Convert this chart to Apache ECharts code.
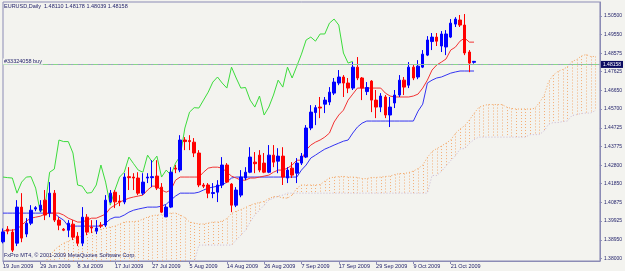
<!DOCTYPE html>
<html>
<head>
<meta charset="utf-8">
<title>EURUSD Daily</title>
<script src="https://cdn.jsdelivr.net/npm/echarts@6/dist/echarts.min.js"></script>
<style>
  html, body { margin: 0; padding: 0; background: #f3f3ef; }
  #chart { width: 625px; height: 271px; }
</style>
</head>
<body>
<div id="chart"></div>
<script>
// daily bars (Sunday bars are still in the feed until mid August)
var dates = [
  '19 Jun 2009', '21 Jun 2009', '22 Jun 2009', '23 Jun 2009', '24 Jun 2009', '25 Jun 2009', '26 Jun 2009', '28 Jun 2009',
  '29 Jun 2009', '30 Jun 2009', '1 Jul 2009', '2 Jul 2009', '3 Jul 2009', '5 Jul 2009', '6 Jul 2009', '7 Jul 2009',
  '8 Jul 2009', '9 Jul 2009', '10 Jul 2009', '12 Jul 2009', '13 Jul 2009', '14 Jul 2009', '15 Jul 2009', '16 Jul 2009',
  '17 Jul 2009', '19 Jul 2009', '20 Jul 2009', '21 Jul 2009', '22 Jul 2009', '23 Jul 2009', '24 Jul 2009', '26 Jul 2009',
  '27 Jul 2009', '28 Jul 2009', '29 Jul 2009', '30 Jul 2009', '31 Jul 2009', '2 Aug 2009', '3 Aug 2009', '4 Aug 2009',
  '5 Aug 2009', '6 Aug 2009', '7 Aug 2009', '9 Aug 2009', '10 Aug 2009', '11 Aug 2009', '12 Aug 2009', '13 Aug 2009',
  '14 Aug 2009', '17 Aug 2009', '18 Aug 2009', '19 Aug 2009', '20 Aug 2009', '21 Aug 2009', '24 Aug 2009', '25 Aug 2009',
  '26 Aug 2009', '27 Aug 2009', '28 Aug 2009', '31 Aug 2009', '1 Sep 2009', '2 Sep 2009', '3 Sep 2009', '4 Sep 2009',
  '7 Sep 2009', '8 Sep 2009', '9 Sep 2009', '10 Sep 2009', '11 Sep 2009', '14 Sep 2009', '15 Sep 2009', '16 Sep 2009',
  '17 Sep 2009', '18 Sep 2009', '21 Sep 2009', '22 Sep 2009', '23 Sep 2009', '24 Sep 2009', '25 Sep 2009', '28 Sep 2009',
  '29 Sep 2009', '30 Sep 2009', '1 Oct 2009', '2 Oct 2009', '5 Oct 2009', '6 Oct 2009', '7 Oct 2009', '8 Oct 2009',
  '9 Oct 2009', '12 Oct 2009', '13 Oct 2009', '14 Oct 2009', '15 Oct 2009', '16 Oct 2009', '19 Oct 2009', '20 Oct 2009',
  '21 Oct 2009', '22 Oct 2009', '23 Oct 2009', '26 Oct 2009', '27 Oct 2009', '28 Oct 2009'
]
// empty slots to the right where the cloud is projected forward
var futureBars = 27

var opens = [
  1.3885, 1.3950, 1.3935, 1.3878, 1.4064, 1.3925, 1.3981, 1.4054, 1.4048, 1.4100,
  1.4033, 1.4136, 1.3997, 1.3950, 1.3945, 1.3976, 1.3914, 1.3878, 1.4012, 1.3961,
  1.3940, 1.3971, 1.3971, 1.4091, 1.4141, 1.4095, 1.4090, 1.4221, 1.4219, 1.4214,
  1.4136, 1.4214, 1.4216, 1.4224, 1.4167, 1.4014, 1.4064, 1.4265, 1.4255, 1.4410,
  1.4407, 1.4399, 1.4343, 1.4178, 1.4178, 1.4134, 1.4141, 1.4178, 1.4281, 1.4183,
  1.4074, 1.4126, 1.4214, 1.4244, 1.4296, 1.4332, 1.4291, 1.4244, 1.4332, 1.4301,
  1.4327, 1.4214, 1.4265, 1.4239, 1.4291, 1.4322, 1.4472, 1.4552, 1.4580, 1.4595,
  1.4606, 1.4652, 1.4704, 1.4735, 1.4704, 1.4678, 1.4786, 1.4730, 1.4660, 1.4714,
  1.4616, 1.4580, 1.4632, 1.4539, 1.4601, 1.4642, 1.4719, 1.4693, 1.4786, 1.4735,
  1.4786, 1.4848, 1.4918, 1.4941, 1.4895, 1.4890, 1.4941, 1.5008, 1.5029, 1.5003,
  1.4864, 1.48110
]
var highs = [
  1.3954, 1.3966, 1.3950, 1.4100, 1.4136, 1.4007, 1.4074, 1.4069, 1.4100, 1.4152,
  1.4193, 1.4152, 1.4012, 1.3956, 1.3997, 1.3997, 1.3935, 1.4064, 1.4028, 1.3997,
  1.3997, 1.3987, 1.4126, 1.4152, 1.4152, 1.4126, 1.4239, 1.4270, 1.4239, 1.4244,
  1.4239, 1.4239, 1.4306, 1.4306, 1.4188, 1.4074, 1.4270, 1.4281, 1.4435, 1.4425,
  1.4435, 1.4420, 1.4358, 1.4188, 1.4188, 1.4188, 1.4203, 1.4322, 1.4291, 1.4188,
  1.4167, 1.4255, 1.4270, 1.4373, 1.4348, 1.4358, 1.4343, 1.4384, 1.4384, 1.4368,
  1.4373, 1.4270, 1.4296, 1.4317, 1.4343, 1.4487, 1.4590, 1.4590, 1.4632, 1.4632,
  1.4683, 1.4730, 1.4771, 1.4745, 1.4730, 1.4812, 1.4838, 1.4735, 1.4709, 1.4719,
  1.4668, 1.4652, 1.4642, 1.4632, 1.4668, 1.4745, 1.4735, 1.4812, 1.4797, 1.4822,
  1.4874, 1.4946, 1.4962, 1.4962, 1.4972, 1.4977, 1.5034, 1.5044, 1.5055, 1.5060,
  1.4874, 1.48178
]
var lows = [
  1.3877, 1.3924, 1.3832, 1.3863, 1.3883, 1.3909, 1.3971, 1.4043, 1.4038, 1.3997,
  1.4012, 1.3987, 1.3945, 1.3940, 1.3909, 1.3894, 1.3863, 1.3863, 1.3919, 1.3930,
  1.3925, 1.3956, 1.3961, 1.4085, 1.4059, 1.4069, 1.4079, 1.4152, 1.4152, 1.4126,
  1.4126, 1.4188, 1.4167, 1.4152, 1.4033, 1.4012, 1.4059, 1.4239, 1.4244, 1.4358,
  1.4358, 1.4322, 1.4167, 1.4162, 1.4110, 1.4110, 1.4090, 1.4162, 1.4188, 1.4038,
  1.4064, 1.4115, 1.4203, 1.4239, 1.4239, 1.4244, 1.4239, 1.4239, 1.4270, 1.4239,
  1.4178, 1.4188, 1.4214, 1.4188, 1.4281, 1.4317, 1.4461, 1.4487, 1.4523, 1.4549,
  1.4590, 1.4642, 1.4693, 1.4632, 1.4652, 1.4668, 1.4719, 1.4616, 1.4642, 1.4554,
  1.4523, 1.4554, 1.4523, 1.4477, 1.4575, 1.4632, 1.4642, 1.4678, 1.4719, 1.4724,
  1.4781, 1.4843, 1.4874, 1.4895, 1.4864, 1.4848, 1.4936, 1.4993, 1.4993, 1.4848,
  1.4760, 1.48039
]
var closes = [
  1.3936, 1.3940, 1.3842, 1.4064, 1.3904, 1.3981, 1.4048, 1.4061, 1.4074, 1.4023,
  1.4136, 1.3997, 1.3971, 1.3945, 1.3981, 1.3909, 1.3878, 1.4012, 1.3935, 1.3956,
  1.3956, 1.3966, 1.4100, 1.4136, 1.4091, 1.4090, 1.4219, 1.4216, 1.4214, 1.4136,
  1.4193, 1.4219, 1.4221, 1.4162, 1.4038, 1.4064, 1.4244, 1.4260, 1.4410, 1.4402,
  1.4402, 1.4343, 1.4178, 1.4172, 1.4136, 1.4139, 1.4178, 1.4281, 1.4193, 1.4074,
  1.4152, 1.4219, 1.4244, 1.4322, 1.4288, 1.4255, 1.4244, 1.4332, 1.4296, 1.4327,
  1.4219, 1.4255, 1.4229, 1.4291, 1.4327, 1.4472, 1.4554, 1.4577, 1.4575, 1.4616,
  1.4657, 1.4709, 1.4735, 1.4704, 1.4678, 1.4786, 1.4730, 1.4678, 1.4681, 1.4616,
  1.4580, 1.4637, 1.4539, 1.4580, 1.4642, 1.4719, 1.4683, 1.4786, 1.4730, 1.4791,
  1.4853, 1.4926, 1.4941, 1.4920, 1.4957, 1.4957, 1.5013, 1.5034, 1.5003, 1.4859,
  1.4807, 1.48158
]

// Ichimoku lines
var tenkan = [
  1.3940, 1.3945, 1.3945, 1.3950, 1.3971, 1.3992, 1.4007, 1.4012, 1.4017, 1.4028,
  1.4033, 1.4033, 1.4033, 1.4023, 1.4007, 1.3997, 1.3987, 1.3987, 1.3997, 1.4007,
  1.4007, 1.4017, 1.4028, 1.4059, 1.4074, 1.4090, 1.4100, 1.4110, 1.4116, 1.4121,
  1.4126, 1.4152, 1.4172, 1.4172, 1.4152, 1.4141, 1.4152, 1.4203, 1.4219, 1.4219,
  1.4219, 1.4219, 1.4219, 1.4244, 1.4265, 1.4270, 1.4270, 1.4265, 1.4244, 1.4224,
  1.4214, 1.4203, 1.4203, 1.4214, 1.4214, 1.4219, 1.4224, 1.4229, 1.4244, 1.4255,
  1.4255, 1.4265, 1.4281, 1.4306, 1.4306, 1.4358, 1.4384, 1.4399, 1.4410, 1.4425,
  1.4446, 1.4503, 1.4539, 1.4564, 1.4616, 1.4647, 1.4678, 1.4678, 1.4678, 1.4678,
  1.4678, 1.4678, 1.4652, 1.4637, 1.4632, 1.4632, 1.4632, 1.4632, 1.4637, 1.4647,
  1.4678, 1.4719, 1.4771, 1.4797, 1.4812, 1.4828, 1.4874, 1.4889, 1.4920, 1.4936,
  1.4915, 1.4915
]
var kijun = [
  1.4033, 1.4033, 1.4033, 1.4033, 1.4033, 1.4033, 1.4033, 1.4033, 1.4033, 1.4033,
  1.4033, 1.4033, 1.4012, 1.3997, 1.3966, 1.3966, 1.3966, 1.3966, 1.3966, 1.3966,
  1.3966, 1.3966, 1.3981, 1.4002, 1.4012, 1.4012, 1.4023, 1.4038, 1.4048, 1.4054,
  1.4059, 1.4064, 1.4064, 1.4064, 1.4069, 1.4079, 1.4100, 1.4121, 1.4136, 1.4136,
  1.4136, 1.4136, 1.4141, 1.4152, 1.4162, 1.4167, 1.4172, 1.4178, 1.4193, 1.4214,
  1.4219, 1.4219, 1.4219, 1.4219, 1.4219, 1.4219, 1.4219, 1.4219, 1.4219, 1.4219,
  1.4219, 1.4219, 1.4219, 1.4219, 1.4255, 1.4281, 1.4317, 1.4332, 1.4348, 1.4363,
  1.4373, 1.4384, 1.4394, 1.4404, 1.4410, 1.4446, 1.4477, 1.4497, 1.4508, 1.4508,
  1.4508, 1.4508, 1.4508, 1.4508, 1.4508, 1.4508, 1.4508, 1.4508, 1.4508, 1.4559,
  1.4595, 1.4704, 1.4719, 1.4730, 1.4735, 1.4745, 1.4755, 1.4761, 1.4766, 1.4766,
  1.4766, 1.4766
]
// lagging line, drawn 26 bars back
var chikou = [
  1.4219, 1.4216, 1.4214, 1.4136, 1.4193, 1.4219, 1.4221, 1.4162, 1.4038, 1.4064,
  1.4244, 1.4260, 1.4410, 1.4402, 1.4402, 1.4343, 1.4178, 1.4172, 1.4136, 1.4139,
  1.4178, 1.4281, 1.4193, 1.4074, 1.4152, 1.4219, 1.4244, 1.4322, 1.4288, 1.4255,
  1.4244, 1.4332, 1.4296, 1.4327, 1.4219, 1.4255, 1.4229, 1.4291, 1.4327, 1.4472,
  1.4554, 1.4577, 1.4575, 1.4616, 1.4657, 1.4709, 1.4735, 1.4704, 1.4678, 1.4786,
  1.4730, 1.4678, 1.4681, 1.4616, 1.4580, 1.4637, 1.4539, 1.4580, 1.4642, 1.4719,
  1.4683, 1.4786, 1.4730, 1.4791, 1.4853, 1.4926, 1.4941, 1.4920, 1.4957, 1.4957,
  1.5013, 1.5034, 1.5003, 1.4859, 1.4807, 1.4816
]
// cloud edges, null where the edge is below the visible range
var spanA = [
  null, null, null, null, null, null, null, null, null, 1.3780,
  1.3811, 1.3842, 1.3863, 1.3878, 1.3888, 1.3899, 1.3909, 1.3914, 1.3925, 1.3935,
  1.3945, 1.3950, 1.3956, 1.3961, 1.3966, 1.3976, 1.3987, 1.3989, 1.3989, 1.3992,
  1.4002, 1.4013, 1.4020, 1.4023, 1.4025, 1.4031, 1.4033, 1.4033, 1.4023, 1.4010,
  1.3987, 1.3982, 1.3977, 1.3977, 1.3982, 1.3987, 1.3987, 1.3992, 1.4005, 1.4031,
  1.4043, 1.4051, 1.4062, 1.4074, 1.4082, 1.4088, 1.4093, 1.4108, 1.4118, 1.4118,
  1.4111, 1.4110, 1.4126, 1.4162, 1.4178, 1.4178, 1.4178, 1.4178, 1.4180, 1.4198,
  1.4214, 1.4219, 1.4221, 1.4222, 1.4219, 1.4219, 1.4217, 1.4211, 1.4211, 1.4217,
  1.4217, 1.4219, 1.4222, 1.4224, 1.4232, 1.4237, 1.4237, 1.4242, 1.4250, 1.4263,
  1.4281, 1.4320, 1.4351, 1.4366, 1.4379, 1.4394, 1.4410, 1.4444, 1.4467, 1.4484,
  1.4513, 1.4547, 1.4578, 1.4588, 1.4593, 1.4593, 1.4593, 1.4593, 1.4580, 1.4573,
  1.4570, 1.4570, 1.4570, 1.4570, 1.4573, 1.4603, 1.4637, 1.4712, 1.4745, 1.4764,
  1.4774, 1.4787, 1.4815, 1.4825, 1.4843, 1.4851, 1.4841, 1.4841
]
var spanB = [
  null, null, null, null, null, null, null, null, null, null,
  null, null, null, null, null, null, null, null, null, null,
  null, null, null, null, null, null, null, null, null, null,
  null, null, null, null, null, null, null, null, null, null,
  null, 1.3780, 1.3868, 1.3868, 1.3868, 1.3868, 1.3868, 1.3868, 1.3868, 1.3868,
  1.3894, 1.3919, 1.3945, 1.3987, 1.4023, 1.4048, 1.4074, 1.4100, 1.4110, 1.4121,
  1.4126, 1.4136, 1.4136, 1.4136, 1.4136, 1.4136, 1.4136, 1.4136, 1.4136, 1.4136,
  1.4136, 1.4136, 1.4136, 1.4136, 1.4136, 1.4136, 1.4136, 1.4136, 1.4136, 1.4136,
  1.4136, 1.4136, 1.4136, 1.4136, 1.4136, 1.4136, 1.4136, 1.4136, 1.4136, 1.4136,
  1.4136, 1.4136, 1.4227, 1.4227, 1.4248, 1.4276, 1.4304, 1.4328, 1.4364, 1.4366,
  1.4392, 1.4412, 1.4425, 1.4425, 1.4425, 1.4425, 1.4425, 1.4425, 1.4425, 1.4425,
  1.4425, 1.4425, 1.4425, 1.4438, 1.4438, 1.4438, 1.4456, 1.4492, 1.4500, 1.4500,
  1.4505, 1.4508, 1.4536, 1.4541, 1.4547, 1.4549, 1.4549, 1.4562
]

var priceTicks = [1.38000, 1.38950, 1.39925, 1.40875, 1.41850, 1.42800, 1.43775,
  1.44725, 1.45700, 1.46650, 1.47625, 1.48575, 1.49550, 1.50500]
var yMin = 1.3786
var yMax = 1.5122
var bidPrice = 1.48158
var orderPrice = 1.4788

var fontFamily = 'Liberation Sans'
var textColor = '#23236b'
var frameColor = '#8b8bb5'
var last = dates.length - 1

var chart = echarts.init(document.getElementById('chart'))

var categories = dates.concat(new Array(futureBars).fill(''))
var candles = opens.map(function (o, i) {
  return [o, closes[i], lows[i], highs[i]]
})
var cloud = []
spanA.forEach(function (a, i) {
  if (a == null) return
  cloud.push([i, a, spanB[i] == null ? yMin : spanB[i]])
})

function showDate(index) {
  return index % 8 === 0 && index < dates.length
}

function renderCloud(params, api) {
  var top = api.coord([api.value(0), api.value(1)])
  var bottom = api.coord([api.value(0), api.value(2)])
  var x = Math.round(top[0]) + 0.5
  return {
    type: 'line',
    shape: { x1: x, y1: top[1], x2: x, y2: bottom[1] },
    style: { stroke: '#f3a262', lineWidth: 1, lineDash: [1, 2], opacity: 0.85 }
  }
}

chart.setOption({
  animation: false,
  backgroundColor: '#f3f3ef',
  textStyle: { fontFamily: fontFamily },
  title: {
    text: 'EURUSD,Daily  ' + [opens[last], highs[last], lows[last], closes[last]].map(function (v) {
      return v.toFixed(5)
    }).join(' '),
    left: 4,
    top: 3,
    padding: 0,
    textStyle: { fontSize: 5.5, fontWeight: 'normal', color: textColor, fontFamily: fontFamily }
  },
  graphic: [{
    type: 'text',
    left: 4,
    top: 252,
    z: 100,
    style: {
      text: 'FxPro MT4, \u00a9 2001-2009 MetaQuotes Software Corp.',
      fill: textColor,
      font: '5.5px ' + fontFamily
    }
  }],
  grid: {
    left: 2,
    right: 22,
    top: 2,
    bottom: 10,
    show: true,
    borderColor: frameColor,
    borderWidth: 1,
    backgroundColor: 'transparent'
  },
  xAxis: {
    type: 'category',
    data: categories,
    boundaryGap: false,
    axisLine: { lineStyle: { color: frameColor } },
    axisTick: { interval: showDate, length: 3, lineStyle: { color: frameColor } },
    axisLabel: {
      interval: showDate,
      align: 'left',
      margin: 2,
      fontSize: 5.5,
      color: textColor
    },
    splitLine: { show: false }
  },
  yAxis: {
    type: 'value',
    position: 'right',
    min: yMin,
    max: yMax,
    splitLine: { show: false },
    axisLine: { show: true, lineStyle: { color: frameColor } },
    axisTick: { show: true, length: 2, customValues: priceTicks, lineStyle: { color: frameColor } },
    axisLabel: {
      customValues: priceTicks,
      formatter: function (v) { return v.toFixed(5) },
      margin: 4,
      fontSize: 5,
      color: textColor
    }
  },
  series: [
    {
      name: 'Kumo',
      type: 'custom',
      data: cloud,
      renderItem: renderCloud,
      encode: { x: 0, y: [1, 2] },
      clip: true,
      silent: true,
      z: 1
    },
    {
      name: 'Senkou Span A',
      type: 'line',
      data: spanA,
      symbol: 'none',
      silent: true,
      lineStyle: { color: '#f4a460', width: 1, type: [1, 2] },
      z: 2
    },
    {
      name: 'Senkou Span B',
      type: 'line',
      data: spanB,
      symbol: 'none',
      silent: true,
      lineStyle: { color: '#c9b6d6', width: 1, type: [1, 2] },
      z: 2
    },
    {
      name: 'Chikou Span',
      type: 'line',
      data: chikou,
      symbol: 'none',
      silent: true,
      lineStyle: { color: '#3cdc3c', width: 1 },
      z: 3
    },
    {
      name: 'Kijun-sen',
      type: 'line',
      data: kijun,
      symbol: 'none',
      silent: true,
      lineStyle: { color: '#3434f2', width: 1 },
      z: 3
    },
    {
      name: 'Tenkan-sen',
      type: 'line',
      data: tenkan,
      symbol: 'none',
      silent: true,
      lineStyle: { color: '#f23434', width: 1 },
      z: 3
    },
    {
      name: 'EURUSD',
      type: 'candlestick',
      data: candles,
      barWidth: 3,
      z: 4,
      itemStyle: {
        color: '#0000ff',
        color0: '#ff0000',
        borderColor: '#0000ff',
        borderColor0: '#ff0000',
        borderWidth: 1
      },
      markLine: {
        symbol: ['none', 'none'],
        silent: true,
        animation: false,
        data: [
          {
            yAxis: bidPrice,
            lineStyle: { color: '#9c9cc6', type: 'solid', width: 1 },
            label: {
              show: true,
              position: 'end',
              distance: 1,
              formatter: bidPrice.toFixed(5),
              backgroundColor: '#0c0c62',
              color: '#ffffff',
              fontSize: 5,
              padding: [1, 2]
            }
          },
          {
            yAxis: orderPrice,
            lineStyle: { color: '#86d886', type: [5, 2, 1, 2], width: 1 },
            label: {
              show: true,
              position: 'insideStartTop',
              distance: 0,
              formatter: '#33324058 buy',
              color: textColor,
              fontSize: 5.5,
              backgroundColor: '#f3f3ef',
              padding: [0, 1]
            }
          }
        ]
      }
    }
  ]
})
</script>
</body>
</html>
